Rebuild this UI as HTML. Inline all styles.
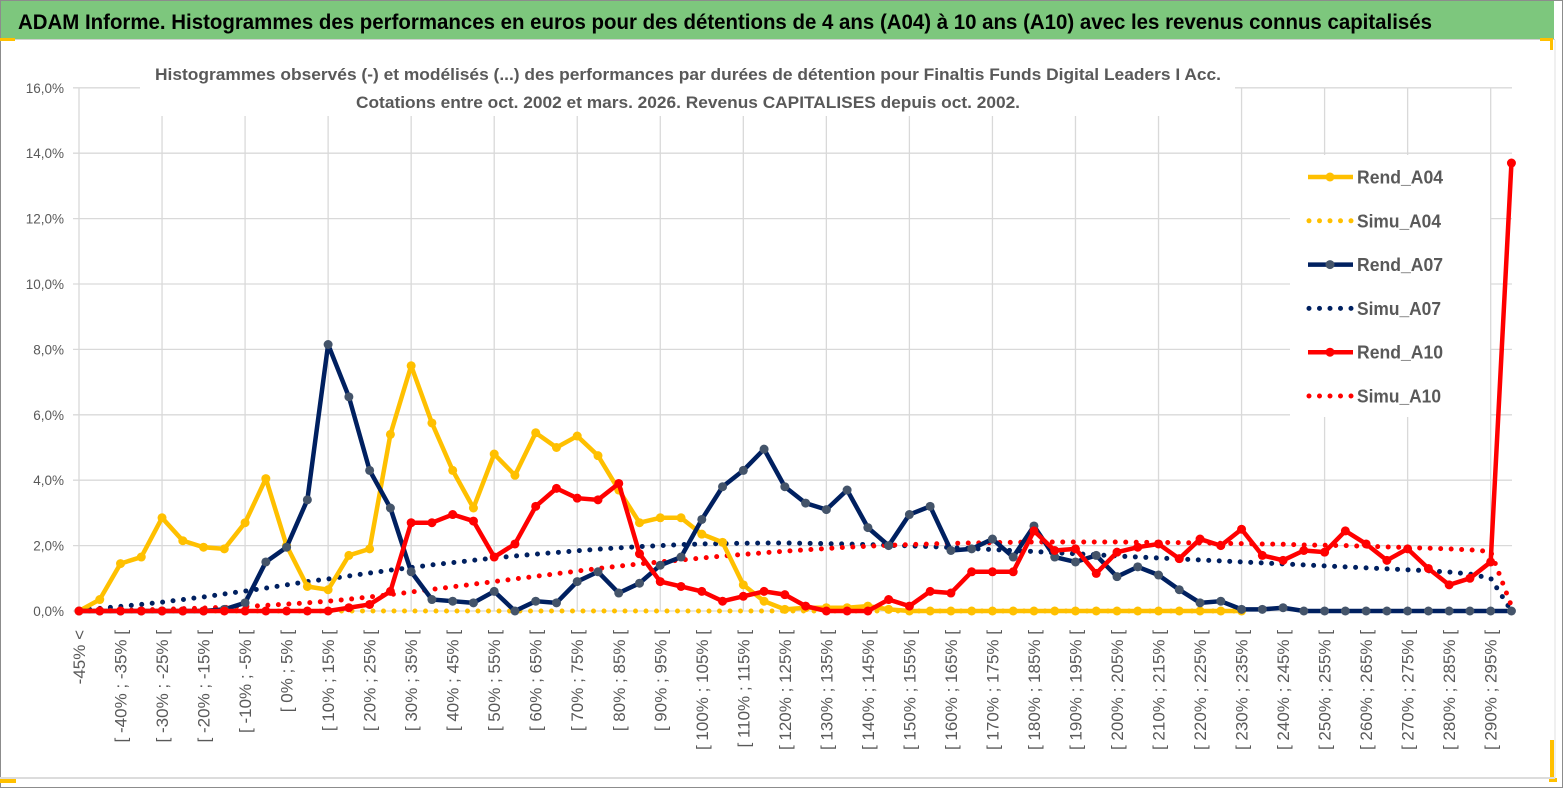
<!DOCTYPE html>
<html><head><meta charset="utf-8"><style>
html,body{margin:0;padding:0;background:#fff;}
svg{display:block;font-family:"Liberation Sans",sans-serif;}
</style></head><body>
<svg id="chart" width="1567" height="789" viewBox="0 0 1567 789">
<rect x="0" y="0" width="1567" height="789" fill="#ffffff"/>
<rect x="0.5" y="0.5" width="1562" height="787" fill="none" stroke="#8c8c8c"/>
<rect x="1" y="1" width="1553" height="38" fill="#7dc77d"/>
<line x1="0" y1="39.5" x2="1555" y2="39.5" stroke="#d0d0d0" stroke-width="1"/>
<rect x="0" y="38" width="15" height="3" fill="#ffc000"/>
<rect x="1550" y="38" width="3" height="12" fill="#ffc000"/><rect x="1540" y="38" width="13" height="3" fill="#ffc000"/>
<rect x="0" y="779" width="16" height="4" fill="#ffc000"/>
<rect x="1550" y="740" width="4" height="42" fill="#ffc000"/><rect x="1549" y="778" width="8" height="4" fill="#ffc000"/>
<line x1="0" y1="778" x2="1555" y2="778" stroke="#dcdcdc" stroke-width="2"/>
<line x1="1555" y1="40" x2="1555" y2="778" stroke="#e0e0e0" stroke-width="1"/>
<text x="18" y="29" font-size="21" font-weight="bold" fill="#000" textLength="1414" lengthAdjust="spacingAndGlyphs">ADAM Informe. Histogrammes des performances en euros pour des détentions de 4 ans (A04) à 10 ans (A10) avec les revenus connus capitalisés</text>
<g id="grid"></g>
<g id="yaxis"></g>
<g id="xaxis"></g>
<rect x="140" y="58" width="1095" height="58" fill="#fff"/>
<text x="688" y="80" font-size="17" font-weight="bold" fill="#595959" text-anchor="middle" textLength="1066" lengthAdjust="spacingAndGlyphs">Histogrammes observés (-) et modélisés (...) des performances par durées de détention pour Finaltis Funds Digital Leaders I Acc.</text>
<text x="688" y="108" font-size="17" font-weight="bold" fill="#595959" text-anchor="middle" textLength="664" lengthAdjust="spacingAndGlyphs">Cotations entre oct. 2002 et mars. 2026. Revenus CAPITALISES depuis oct. 2002.</text>
<rect x="1290" y="155" width="200" height="262" fill="#fff"/>
<g id="series"></g>
<g id="legend"></g>
</svg>
<script>
const categories = (function(){const c=["-45% <"];for(let v=-45;v<300;v+=5){c.push("[ "+v+"% ; "+(v+5)+"% [");}return c;})();
const yTicks = [0,2,4,6,8,10,12,14,16];
const yTickLabels = ["0,0%","2,0%","4,0%","6,0%","8,0%","10,0%","12,0%","14,0%","16,0%"];
const rendA04 = [0,0.35,1.45,1.65,2.85,2.15,1.95,1.9,2.7,4.05,2.0,0.75,0.65,1.7,1.9,5.4,7.5,5.75,4.3,3.15,4.8,4.15,5.45,5.0,5.35,4.75,3.7,2.7,2.85,2.85,2.35,2.1,0.8,0.3,0.05,0.1,0.1,0.1,0.15,0.05,0,0,0,0,0,0,0,0,0,0,0,0,0,0,0,0,0];
const simuA04 = [0,0,0,0,0,0,0,0,0,0,0,0,0,0,0,0,0,0,0,0,0,0,0,0,0,0,0,0,0,0,0,0,0,0,0,0,0,0,0,0,0,0,0,0,0,0,0,0,0,0,0,0,0,0,0,0,0];
const rendA07 = [0,0,0,0,0,0,0,0.05,0.25,1.5,1.95,3.4,8.15,6.55,4.3,3.15,1.2,0.35,0.3,0.25,0.6,0.0,0.3,0.25,0.9,1.2,0.55,0.85,1.4,1.65,2.8,3.8,4.3,4.95,3.8,3.3,3.1,3.7,2.55,2.0,2.95,3.2,1.85,1.9,2.2,1.65,2.6,1.65,1.5,1.7,1.05,1.35,1.1,0.65,0.25,0.3,0.05,0.05,0.1,0,0,0,0,0,0,0,0,0,0,0];
const simuA07 = [0.03,0.08,0.14,0.2,0.27,0.35,0.43,0.52,0.61,0.7,0.8,0.9,0.98,1.07,1.16,1.25,1.33,1.41,1.48,1.55,1.62,1.68,1.74,1.79,1.84,1.89,1.93,1.97,2.0,2.03,2.05,2.06,2.07,2.08,2.08,2.07,2.06,2.05,2.03,2.01,1.99,1.97,1.94,1.91,1.88,1.85,1.82,1.78,1.75,1.72,1.68,1.65,1.62,1.59,1.56,1.53,1.5,1.47,1.44,1.41,1.38,1.35,1.32,1.29,1.26,1.23,1.19,1.13,1.0,0];
const rendA10 = [0,0,0,0,0,0,0,0,0,0,0,0,0,0.1,0.2,0.6,2.7,2.7,2.95,2.75,1.65,2.05,3.2,3.75,3.45,3.4,3.9,1.75,0.9,0.75,0.6,0.3,0.45,0.6,0.5,0.15,0,0,0,0.35,0.15,0.6,0.55,1.2,1.2,1.2,2.45,1.85,1.9,1.15,1.8,1.95,2.05,1.6,2.2,2.0,2.5,1.7,1.55,1.85,1.8,2.45,2.05,1.55,1.9,1.3,0.8,1.0,1.5,13.7];
const simuA10 = [0.0,0.01,0.02,0.03,0.05,0.07,0.09,0.11,0.14,0.17,0.21,0.25,0.3,0.36,0.43,0.5,0.58,0.66,0.74,0.82,0.9,0.98,1.06,1.14,1.22,1.3,1.37,1.44,1.5,1.56,1.62,1.68,1.73,1.78,1.83,1.87,1.91,1.95,1.98,2.01,2.03,2.05,2.07,2.08,2.09,2.1,2.11,2.11,2.11,2.11,2.11,2.1,2.1,2.09,2.08,2.07,2.06,2.05,2.04,2.02,2.01,2.0,1.98,1.96,1.94,1.92,1.9,1.87,1.82,0.15];

const NS="http://www.w3.org/2000/svg";
const X0=79, XSTEP=20.76, Y0=611, YPER=32.7, XEND=1512;
function xs(i){return X0+i*XSTEP;}
function ys(v){return Y0-v*YPER;}
function mk(tag,attrs,parent){const e=document.createElementNS(NS,tag);for(const k in attrs)e.setAttribute(k,attrs[k]);parent.appendChild(e);return e;}

const grid=document.getElementById('grid');
for(let t=0;t<yTicks.length;t++){
  const l=mk('line',{x1:73,x2:XEND,y1:ys(yTicks[t]),y2:ys(yTicks[t]),stroke:'#d9d9d9','stroke-width':1.3},grid);
  
  
}
for(let i=0;i<categories.length;i+=4){
  const l=mk('line',{x1:xs(i),x2:xs(i),y1:ys(16),y2:Y0,stroke:'#d9d9d9','stroke-width':1.3},grid);
  
  
}
const ya=document.getElementById('yaxis');
for(let t=0;t<yTicks.length;t++){
  const tx=mk('text',{x:64,y:ys(yTicks[t])+5,'font-size':13.5,fill:'#595959','text-anchor':'end'},ya);
  tx.textContent=yTickLabels[t];
  
  
}
const xa=document.getElementById('xaxis');
for(let i=0;i<categories.length;i+=2){
  const x=xs(i)+6, y=630;
  const tx=mk('text',{x:x,y:y,'font-size':17,fill:'#595959','text-anchor':'end',transform:'rotate(-90 '+x+' '+y+')'},xa);
  tx.textContent=categories[i];
  
  
}
const sg=document.getElementById('series');
function pts(arr){return arr.map((v,i)=>xs(i)+','+ys(v)).join(' ');}
function dotted(arr,color,name){
  const p=mk('polyline',{points:pts(arr),fill:'none',stroke:color,'stroke-width':5,'stroke-linecap':'round','stroke-dasharray':'0 10.5'},sg);
  
  
}
function solid(arr,color,mcolor,name){
  const g=mk('g',{},sg);
  
  
  mk('polyline',{points:pts(arr),fill:'none',stroke:color,'stroke-width':4.5,'stroke-linejoin':'round'},g);
  arr.forEach((v,i)=>{
    const c=mk('circle',{cx:xs(i),cy:ys(v),r:4.5,fill:mcolor},g);
    
    
  });
}
dotted(simuA07,'#002060','simu-a07-line');
dotted(simuA10,'#ff0000','simu-a10-line');
dotted(simuA04,'#ffc000','simu-a04-line');
solid(rendA04,'#ffc000','#ffc000','rend-a04-line');
solid(rendA07,'#002060','#44546a','rend-a07-line');
solid(rendA10,'#ff0000','#ff0000','rend-a10-line');

const lg=document.getElementById('legend');
const entries=[["Rend_A04","#ffc000","#ffc000",false],["Simu_A04","#ffc000","",true],["Rend_A07","#002060","#44546a",false],["Simu_A07","#002060","",true],["Rend_A10","#ff0000","#ff0000",false],["Simu_A10","#ff0000","",true]];
entries.forEach((e,k)=>{
  const y=177+k*43.8;
  const g=mk('g',{},lg);
  
  
  if(e[3]){
    mk('line',{x1:1309,x2:1353,y1:y,y2:y,stroke:e[1],'stroke-width':5,'stroke-linecap':'round','stroke-dasharray':'0 10.5'},g);
  } else {
    mk('line',{x1:1308,x2:1353,y1:y,y2:y,stroke:e[1],'stroke-width':4.5},g);
    mk('circle',{cx:1330,cy:y,r:4.5,fill:e[2]},g);
  }
  const t=mk('text',{x:1357,y:y+6.5,'font-size':18,'font-weight':'bold',fill:'#595959',textLength:e[0].indexOf('Simu')==0?84:86,lengthAdjust:'spacingAndGlyphs'},g);
  t.textContent=e[0];
});
</script>
</body></html>
